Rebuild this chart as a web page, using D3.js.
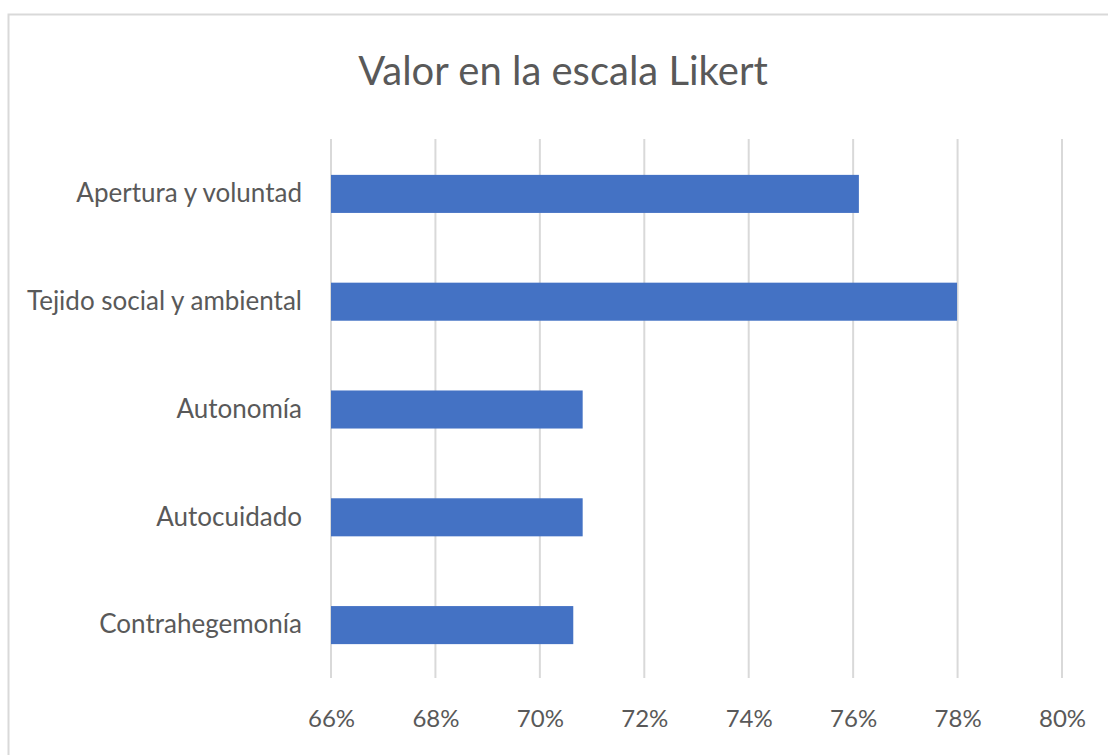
<!DOCTYPE html>
<html><head><meta charset="utf-8">
<script src="https://cdn.jsdelivr.net/npm/d3@7"></script>
<style>
html,body{margin:0;padding:0;background:#fff;}
svg{display:block;}
text{font-family:Lato,"Open Sans",sans-serif;fill:#595959;}
</style></head>
<body>
<svg id="chart" width="1108" height="755"></svg>
<script>
const title = "Valor en la escala Likert";
const categories = ["Apertura y voluntad","Tejido social y ambiental","Autonomía","Autocuidado","Contrahegemonía"];
const values = [0.7611, 0.7799, 0.7082, 0.7082, 0.7064];
const tickValues = [0.66,0.68,0.70,0.72,0.74,0.76,0.78,0.80];

const svg = d3.select("#chart");
// chart border
svg.append("rect").attr("x",8.5).attr("y",14.5).attr("width",1120).attr("height",800)
  .attr("fill","none").attr("stroke","#d9d9d9").attr("stroke-width",2);

const x = d3.scaleLinear().domain([0.66,0.80]).range([331,1062]);
const y = d3.scaleBand().domain(categories).range([140,679]).paddingInner(0.647).paddingOuter(0.3235);

// gridlines
svg.append("g").selectAll("line").data(tickValues).join("line")
  .attr("x1",d=>x(d)).attr("x2",d=>x(d)).attr("y1",139).attr("y2",678)
  .attr("stroke","#d9d9d9").attr("stroke-width",2);

// bars
svg.append("g").selectAll("rect").data(categories).join("rect")
  .attr("x",x(0.66)).attr("y",d=>y(d))
  .attr("width",(d,i)=>x(values[i])-x(0.66)).attr("height",y.bandwidth())
  .attr("fill","#4472c4");

// x axis
const xAxis = d3.axisBottom(x).tickValues(tickValues).tickFormat(d3.format(".0%")).tickSize(0).tickPadding(0);
const gx = svg.append("g").attr("transform","translate(0,710)").call(xAxis);
gx.select(".domain").remove();
gx.selectAll("text").attr("font-size",24).attr("dy","0.71em").style("font-family","Lato,'Open Sans',sans-serif").attr("fill","#595959");

// y axis
const yAxis = d3.axisLeft(y).tickSize(0).tickPadding(0);
const gy = svg.append("g").attr("transform","translate(302,0)").call(yAxis);
gy.select(".domain").remove();
gy.selectAll("text").attr("font-size",26).style("font-family","Lato,'Open Sans',sans-serif").attr("fill","#595959");

// title
svg.append("text").attr("x",563).attr("y",85).attr("text-anchor","middle")
  .attr("font-size",40).text(title);
</script>
</body></html>
